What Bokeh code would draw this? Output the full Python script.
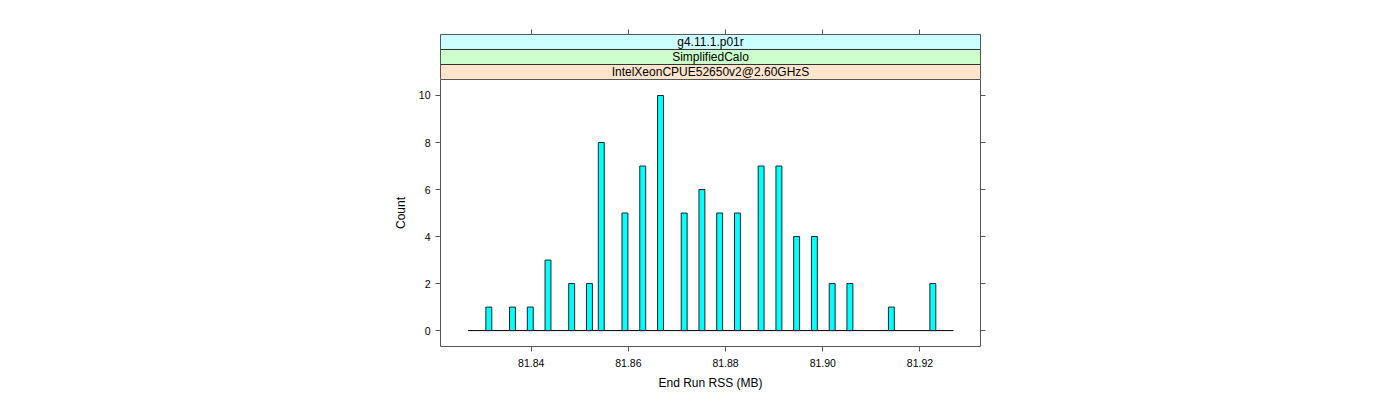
from bokeh.plotting import figure
from bokeh.layouts import column
from bokeh.models import Range1d, FixedTicker, LinearAxis, PrintfTickFormatter, CustomJSTickFormatter
from bokeh.embed import file_html
from bokeh.resources import INLINE
from bokeh.core.properties import value

# ---- data ----
bin_centers = [81.83128, 81.83615, 81.83981, 81.84346, 81.84833, 81.85199,
               81.85442, 81.85929, 81.86295, 81.86661, 81.87148, 81.87513,
               81.87878, 81.88244, 81.88731, 81.89097, 81.89462, 81.89827,
               81.90193, 81.90558, 81.91411, 81.92264]
counts = [1, 1, 1, 3, 2, 2, 8, 5, 7, 10, 5, 6, 5, 5, 7, 7, 4, 4, 2, 2, 1, 2]
bin_width = 0.0012181
bin_lo = 81.82702
bin_hi = 81.92690
x_ticks = [81.84, 81.86, 81.88, 81.90, 81.92]
y_ticks = [0, 2, 4, 6, 8, 10]
strip_labels = ["IntelXeonCPUE52650v2@2.60GHzS", "SimplifiedCalo", "g4.11.1.p01r"]  # bottom -> top
strip_colors = ["#ffe5cc", "#ccffcc", "#ccffff"]

# ---- layout ----
X0, X1 = 81.82134, 81.93245
Y0, Y1 = -0.677, 10.68
FONT = "Liberation Sans"
EDGE = "#555555"
W = 1392
LEFT, RIGHT = 440, 412
STRIP_TOP_BORDER, STRIP_FRAME_H = 34, 45
MAIN_FRAME_H, MAIN_BOTTOM = 268, 45

x_range = Range1d(X0, X1)


def style_axis(ax, labels=True):
    ax.axis_line_color = None
    ax.major_tick_line_color = EDGE
    ax.major_tick_out = 5
    ax.major_tick_in = 0
    ax.minor_tick_line_color = None
    ax.major_label_text_font = FONT
    ax.major_label_text_font_size = "10.5px"
    ax.major_label_text_color = "black"
    if not labels:
        ax.formatter = CustomJSTickFormatter(code="return ''")


def base_fig(height, y_range, top, bottom):
    f = figure(width=W, height=height, x_range=x_range, y_range=y_range,
               output_backend="svg", toolbar_location=None,
               x_axis_location=None, y_axis_location=None,
               min_border_left=LEFT, min_border_right=RIGHT,
               min_border_top=top, min_border_bottom=bottom)
    f.xgrid.visible = False
    f.ygrid.visible = False
    f.outline_line_color = EDGE
    f.outline_line_width = 1
    f.background_fill_color = "white"
    f.border_fill_color = "white"
    return f


# ---- strip panel ----
s = base_fig(STRIP_TOP_BORDER + STRIP_FRAME_H, Range1d(0, len(strip_labels)), STRIP_TOP_BORDER, 0)
xt = LinearAxis(ticker=FixedTicker(ticks=x_ticks))
style_axis(xt, labels=False)
s.add_layout(xt, "above")
idx = list(range(len(strip_labels)))
s.quad(left=X0, right=X1, bottom=idx, top=[i + 1 for i in idx],
       fill_color=strip_colors, line_color="#333333", line_width=1)
s.text(x=(X0 + X1) / 2, y=[i + 0.5 for i in idx], text=strip_labels,
       text_align="center", text_baseline="middle",
       text_font=value(FONT), text_font_size="12px", text_color="black")

# ---- main panel ----
p = base_fig(MAIN_FRAME_H + MAIN_BOTTOM, Range1d(Y0, Y1), 0, MAIN_BOTTOM)

xb = LinearAxis(ticker=FixedTicker(ticks=x_ticks), formatter=PrintfTickFormatter(format="%.2f"))
style_axis(xb)
xb.major_label_standoff = 7
xb.axis_label = "End Run RSS (MB)"
xb.axis_label_text_font = FONT
xb.axis_label_text_font_size = "12px"
xb.axis_label_text_font_style = "normal"
xb.axis_label_text_color = "black"
xb.axis_label_standoff = 6
p.add_layout(xb, "below")

yl = LinearAxis(ticker=FixedTicker(ticks=y_ticks))
style_axis(yl)
yl.major_label_standoff = 5
yl.major_label_orientation = "horizontal"
yl.axis_label = "Count"
yl.axis_label_text_font = FONT
yl.axis_label_text_font_size = "12px"
yl.axis_label_text_font_style = "normal"
yl.axis_label_text_color = "black"
yl.axis_label_standoff = 8
p.add_layout(yl, "left")

yr = LinearAxis(ticker=FixedTicker(ticks=y_ticks))
style_axis(yr, labels=False)
p.add_layout(yr, "right")

p.line(x=[bin_lo, bin_hi], y=[0, 0], line_color="black", line_width=1)
p.vbar(x=bin_centers, width=bin_width, top=counts, bottom=0,
       fill_color="#00ffff", line_color="#222222", line_width=1)

layout = column(s, p, spacing=0)
open("out.html", "w").write(file_html(layout, INLINE))
